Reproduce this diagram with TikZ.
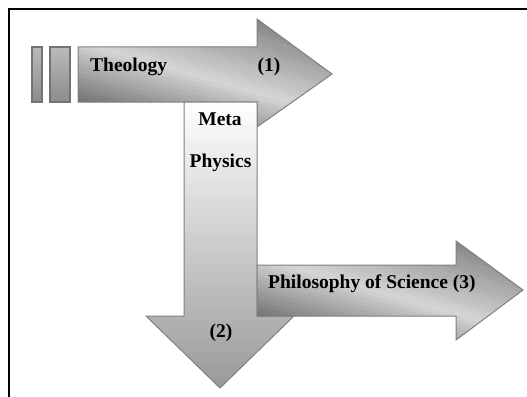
\documentclass[tikz,border=0pt]{standalone}
\usepackage{fontspec}
\setmainfont{Liberation Serif}
\newcommand{\myBands}[2]{%
  \foreach \s in {-100,-96,...,100}{%
    \pgfmathtruncatemacro{\p}{\s<4 ? min(50,17+30*(4-\s)/68) : min(60,17+40*(\s-4)/60)}%
    \fill[black!\p, rotate around={-16:(#1,#2)}] (#1-190,#2+\s-0.3) rectangle (#1+190,#2+\s+4.3);
  }%
}
\begin{document}
\begin{tikzpicture}[x=1pt,y=-1pt,
  outl/.style={draw=black!50, line width=1pt},
  lbl/.style={font=\fontsize{19.5}{23}\selectfont\bfseries, inner sep=0pt, anchor=base}]
\useasboundingbox (0,0) rectangle (527,396);
% frame
\draw[line width=2pt] (9,400) -- (9,9) -- (530,9);
% bars
\draw[draw=black!55, line width=1.2pt, top color=black!27, bottom color=black!45] (32,47) rectangle (42,102);
\draw[draw=black!55, line width=1.2pt, top color=black!27, bottom color=black!45] (50,47) rectangle (70,102);
% arrow 1
\begin{scope}
\clip (78,47) -- (257,47) -- (257,19) -- (332,74) -- (257,127) -- (257,102) -- (78,102) -- cycle;
\myBands{205}{72}
\end{scope}
\draw[outl] (78,47) -- (257,47) -- (257,19) -- (332,74) -- (257,127) -- (257,102) -- (78,102) -- cycle;
% arrow 2
\draw[outl, top color=white, bottom color=black!40]
  (184,102) -- (257,102) -- (257,316) -- (294,316) -- (220,388) -- (146,316) -- (184,316) -- cycle;
% arrow 3
\begin{scope}
\clip (257,265) -- (456,265) -- (456,241) -- (523,290) -- (456,340) -- (456,316) -- (257,316) -- cycle;
\myBands{390}{289}
\end{scope}
\draw[outl] (257,265) -- (456,265) -- (456,241) -- (523,290) -- (456,340) -- (456,316) -- (257,316) -- cycle;
% labels
\node[lbl, anchor=base west] (theo) at (90,71) {Theology};
\node[lbl] (one) at (269,71) {(1)};
\node[lbl] (meta) at (220,125) {Meta};
\node[lbl] (phys) at (220.5,167) {Physics};
\node[lbl] (two) at (221,337) {(2)};
\node[lbl, anchor=base west] (phil) at (268,288) {Philosophy of Science (3)};
\end{tikzpicture}
\end{document}
